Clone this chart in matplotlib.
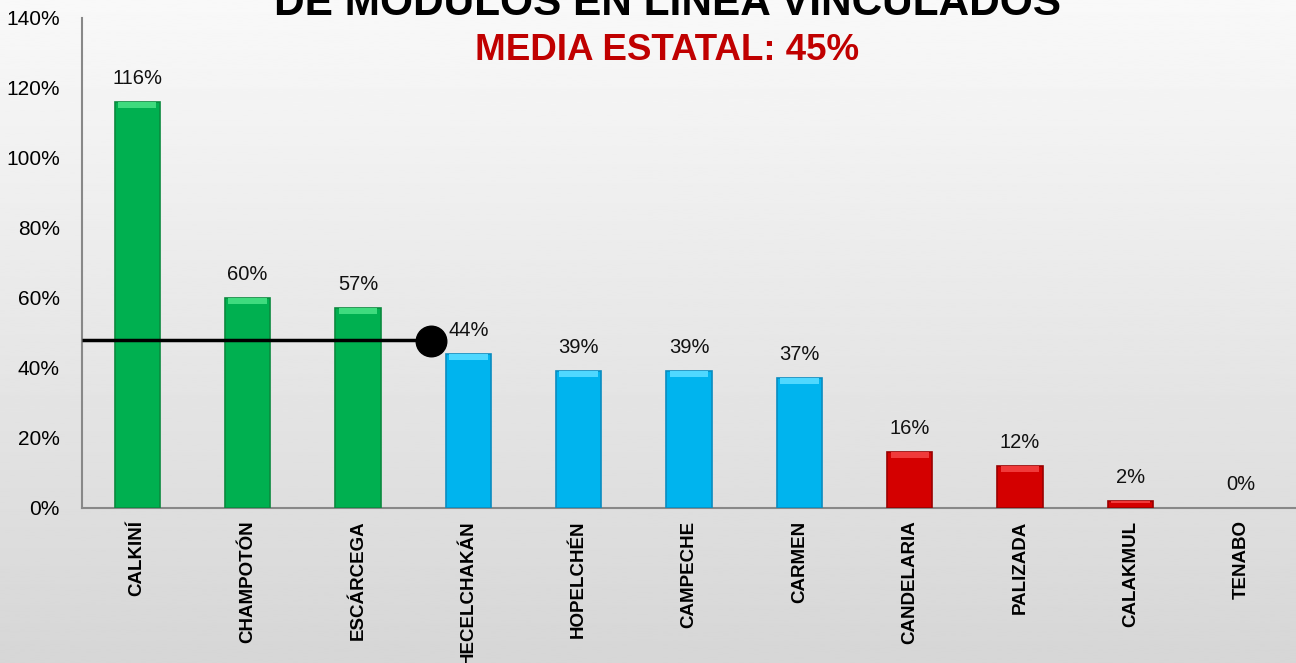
import numpy as np
import matplotlib.pyplot as plt

municipios = ["CALKINÍ", "CHAMPOTÓN", "ESCÁRCEGA", "HECELCHAKÁN", "HOPELCHÉN",
              "CAMPECHE", "CARMEN", "CANDELARIA", "PALIZADA", "CALAKMUL", "TENABO"]
porcentaje = [116, 60, 57, 44, 39, 39, 37, 16, 12, 2, 0]
grupo = ["alto", "alto", "alto", "medio", "medio", "medio", "medio",
         "bajo", "bajo", "bajo", "bajo"]
media_linea = 48          # where the reference line sits on the chart
media_x_fin = 2.66        # end of reference line (category units)
titulo_1 = "DE MÓDULOS EN LÍNEA VINCULADOS"
titulo_2 = "MEDIA ESTATAL: 45%"

colores = {"alto": "#00B050", "medio": "#00B4EE", "bajo": "#D40000"}
bordes = {"alto": "#0A8A3E", "medio": "#0A8CC0", "bajo": "#9A0000"}
brillo = {"alto": "#3FDB7E", "medio": "#4FD8FF", "bajo": "#F03A3A"}

plt.rcParams['font.family'] = ['Liberation Sans', 'DejaVu Sans']

fig = plt.figure(figsize=(12.96, 6.63), dpi=100)

# background gradient
bg = fig.add_axes([0, 0, 1, 1], zorder=-10)
grad = np.linspace(0.975, 0.84, 256).reshape(-1, 1)
bg.imshow(grad, aspect='auto', cmap='gray', vmin=0, vmax=1, extent=[0, 1, 0, 1])
bg.axis('off')

ax = fig.add_axes([0.0633, 0.2338, 0.9367, 0.7391])
ax.patch.set_alpha(0)

x = np.arange(len(municipios))
w = 0.41
cols = [colores[g] for g in grupo]
eds = [bordes[g] if v > 0 else 'none' for g, v in zip(grupo, porcentaje)]
ax.bar(x, porcentaje, width=w, color=cols, edgecolor=eds, linewidth=1.2, zorder=3)
# top bevel highlight
hl = [min(1.6, v * 0.3) for v in porcentaje]
ax.bar(x, hl, bottom=[v - h for v, h in zip(porcentaje, hl)], width=w * 0.85,
       color=[brillo[g] for g in grupo], linewidth=0, zorder=4)

for xi, v in zip(x, porcentaje):
    ax.text(xi, v + 4, f"{v}%", ha='center', va='bottom', fontsize=14.5, color='#111111')

# reference line with end dot
ax.plot([-0.5, media_x_fin], [media_linea, media_linea], color='black', lw=2.5, zorder=5,
        solid_capstyle='butt')
ax.plot([media_x_fin], [media_linea - 0.4], 'o', color='black', markersize=22, zorder=6)

ax.set_xlim(-0.5, len(municipios) - 0.5)
ax.set_ylim(0, 140)
ax.set_yticks(np.arange(0, 141, 20))
ax.set_yticklabels([f"{t}%" for t in range(0, 141, 20)], fontsize=15)
ax.tick_params(axis='y', length=0, pad=16)
ax.set_xticks(x)
ax.set_xticklabels(municipios, rotation=90, fontsize=13.5, fontweight='bold', va='top')
ax.tick_params(axis='x', length=0, pad=9)

for s in ['top', 'right']:
    ax.spines[s].set_visible(False)
for s in ['left', 'bottom']:
    ax.spines[s].set_color('#888888')
    ax.spines[s].set_linewidth(1.5)

fig.text(0.515, 1 - 15 / 663, titulo_1, ha='center', va='baseline', fontsize=30.5,
         fontweight='bold', color='black')
fig.text(0.515, 1 - 60 / 663, titulo_2, ha='center', va='baseline', fontsize=26.5,
         fontweight='bold', color='#C00000')

fig.savefig("out.png", dpi=100)
